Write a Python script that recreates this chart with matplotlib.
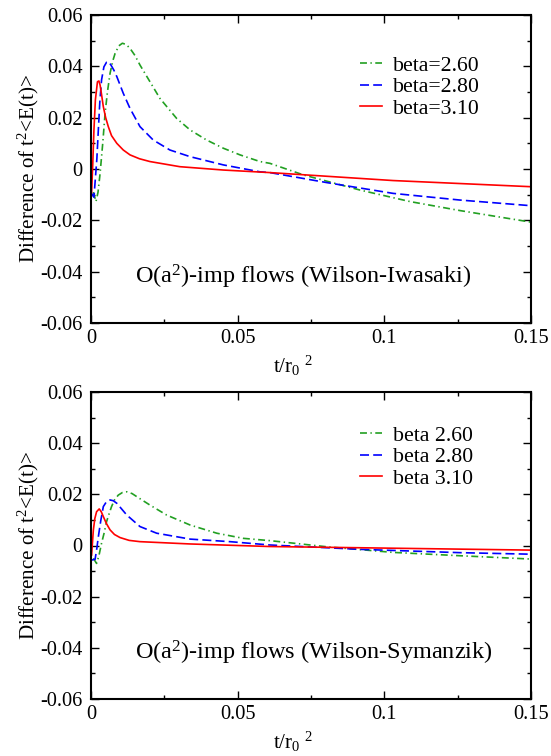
import matplotlib
matplotlib.use("Agg")
import matplotlib.pyplot as plt

plt.rcParams['font.family'] = ['Liberation Serif', 'DejaVu Serif']
plt.rcParams['mathtext.fontset'] = 'custom'
plt.rcParams['mathtext.rm'] = 'Liberation Serif'
plt.rcParams['lines.scale_dashes'] = False

# ---------------- data: top panel (Wilson-Iwasaki) ----------------
t_wi_260 = [0.0008, 0.0017, 0.0024, 0.0031, 0.004, 0.0048, 0.0056, 0.0065, 0.0074,
            0.0082, 0.0095, 0.0107, 0.012, 0.0133, 0.015, 0.0167, 0.0201, 0.0235,
            0.0292, 0.0338, 0.0394, 0.0451, 0.0508, 0.0576, 0.061, 0.0724, 0.0917,
            0.1088, 0.1258, 0.15]
y_wi_260 = [-0.009, -0.0127, -0.009, -0.0017, 0.010, 0.0217, 0.030, 0.0373, 0.042,
            0.045, 0.048, 0.049, 0.0485, 0.047, 0.0442, 0.0405, 0.034, 0.0275,
            0.0197, 0.0152, 0.0113, 0.0081, 0.0055, 0.0029, 0.0022, -0.0023, -0.0082,
            -0.0127, -0.0162, -0.0207]

t_wi_280 = [0.0002, 0.001, 0.002, 0.0025, 0.003, 0.0036, 0.0044, 0.0053, 0.006,
            0.0068, 0.0078, 0.0088, 0.011, 0.0133, 0.0167, 0.0212, 0.0269, 0.0338,
            0.0451, 0.0576, 0.061, 0.0804, 0.103, 0.1258, 0.15]
y_wi_280 = [-0.0095, -0.011, 0.004, 0.0152, 0.026, 0.0347, 0.0398, 0.0416, 0.0418,
            0.0405, 0.0385, 0.036, 0.0295, 0.0236, 0.0165, 0.0113, 0.0074, 0.0048,
            0.0016, -0.0011, -0.0014, -0.0053, -0.0095, -0.0121, -0.0143]

t_wi_310 = [0.0002, 0.0006, 0.001, 0.0015, 0.0022, 0.0027, 0.0031, 0.0036, 0.0042,
            0.005, 0.0059, 0.007, 0.0088, 0.011, 0.0133, 0.0165, 0.0201, 0.0303,
            0.0451, 0.061, 0.103, 0.15]
y_wi_310 = [-0.0092, 0.002, 0.0152, 0.027, 0.034, 0.0343, 0.0327, 0.029, 0.0243,
            0.020, 0.0165, 0.013, 0.010, 0.0074, 0.0055, 0.004, 0.0029, 0.0009,
            -0.0004, -0.0014, -0.0045, -0.0069]

# ---------------- data: bottom panel (Wilson-Symanzik) ----------------
t_ws_260 = [0.0008, 0.0019, 0.0027, 0.0036, 0.0045, 0.0053, 0.0062, 0.007, 0.008,
            0.0093, 0.0107, 0.0122, 0.014, 0.0156, 0.0201, 0.0258, 0.0338, 0.0429,
            0.0519, 0.061, 0.0804, 0.103, 0.1258, 0.15]
y_ws_260 = [-0.005, -0.007, -0.004, 0.0009, 0.005, 0.0093, 0.0125, 0.0152, 0.0178,
            0.0197, 0.0207, 0.021, 0.0203, 0.0191, 0.0158, 0.0119, 0.008, 0.0048,
            0.0028, 0.0019, -0.0005, -0.0027, -0.004, -0.0053]

t_ws_280 = [0.0002, 0.0014, 0.002, 0.0025, 0.0033, 0.0042, 0.0052, 0.0065, 0.0076,
            0.0088, 0.0105, 0.0122, 0.0167, 0.0224, 0.0338, 0.0474, 0.061, 0.0917,
            0.1258, 0.15]
y_ws_280 = [-0.0057, -0.0054, -0.001, 0.0034, 0.0095, 0.0152, 0.017, 0.0178, 0.0175,
            0.0165, 0.0142, 0.0119, 0.0074, 0.0048, 0.0025, 0.0015, 0.0002, -0.0015,
            -0.0028, -0.0034]

t_ws_310 = [0.0002, 0.0008, 0.0013, 0.0019, 0.0028, 0.0035, 0.0042, 0.0053, 0.0065,
            0.008, 0.0099, 0.013, 0.0167, 0.0338, 0.061, 0.15]
y_ws_310 = [-0.0037, 0.006, 0.0105, 0.0132, 0.0143, 0.0132, 0.0113, 0.0085, 0.0061,
            0.0043, 0.0031, 0.002, 0.0015, 0.0006, -0.0004, -0.0018]

labels_top = ['beta=2.60', 'beta=2.80', 'beta=3.10']
labels_bot = ['beta 2.60', 'beta 2.80', 'beta 3.10']
x_ticks = [0, 0.05, 0.1, 0.15]
x_ticklabels = ['0', '0.05', '0.1', '0.15']
y_ticks = [-0.06, -0.04, -0.02, 0, 0.02, 0.04, 0.06]
y_ticklabels = ['-0.06', '-0.04', '-0.02', '0', '0.02', '0.04', '0.06']

FS_TICK = 14.7
FS_LAB = 15.1
FS_LEG = 15.7
FS_TITLE = 17.5
fig = plt.figure(figsize=(5.51, 7.56), dpi=100)
W, H = 551, 756
ax1 = fig.add_axes([91 / W, 1 - 323 / H, 440 / W, 308 / H])
ax2 = fig.add_axes([91 / W, 1 - 699 / H, 440 / W, 307 / H])

def style(ax, title, series, labels, leg_top):
    (t1, y1), (t2, y2), (t3, y3) = series
    l1, = ax.plot(t1, y1, color='#22a022', lw=1.2, label=labels[0])
    l1.set_dashes([5, 2.5, 1, 2.5])
    l2, = ax.plot(t2, y2, color='#0000ff', lw=1.2, label=labels[1])
    l2.set_dashes([6.5, 3])
    ax.plot(t3, y3, color='#ff0000', lw=1.2, label=labels[2])
    ax.set_xlim(0, 0.15)
    ax.set_ylim(-0.06, 0.06)
    ax.set_xticks(x_ticks)
    ax.set_xticklabels(x_ticklabels, fontsize=FS_TICK)
    ax.set_yticks(y_ticks)
    ax.set_yticklabels(y_ticklabels, fontsize=FS_TICK)
    ax.set_xticks([0.025, 0.075, 0.125], minor=True)
    ax.set_yticks([-0.05, -0.03, -0.01, 0.01, 0.03, 0.05], minor=True)
    ax.tick_params(which='both', direction='in', top=True, right=True, width=1.0)
    ax.tick_params(which='major', length=6)
    ax.tick_params(which='minor', length=3)
    ax.tick_params(axis='x', pad=4)
    ax.tick_params(axis='y', pad=6)
    for s in ax.spines.values():
        s.set_linewidth(1.5)
    ax.set_xlabel(r"t/r$\mathregular{_0}$$\mathregular{^{\ 2}}$", fontsize=FS_LAB)
    ax.xaxis.set_label_coords(0.46, -0.10)
    ax.set_ylabel(r"Difference of t$\mathregular{^2}$<E(t)>", fontsize=FS_LAB, labelpad=-0.5)
    ax.text(0.1, 0.15, title, transform=ax.transAxes, fontsize=FS_TITLE,
            va='center', ha='left')
    ax.legend(loc='upper left', bbox_to_anchor=(0.611, leg_top), frameon=False,
              fontsize=FS_LEG, handlelength=1.0, handletextpad=0.5, labelspacing=0.05,
              borderpad=0, borderaxespad=0)

style(ax1, r"O(a$\mathregular{^2}$)-imp flows (Wilson-Iwasaki)",
      [(t_wi_260, y_wi_260), (t_wi_280, y_wi_280), (t_wi_310, y_wi_310)],
      labels_top, 0.868)
style(ax2, r"O(a$\mathregular{^2}$)-imp flows (Wilson-Symanzik)",
      [(t_ws_260, y_ws_260), (t_ws_280, y_ws_280), (t_ws_310, y_ws_310)],
      labels_bot, 0.89)

fig.savefig('out.png', dpi=100)
